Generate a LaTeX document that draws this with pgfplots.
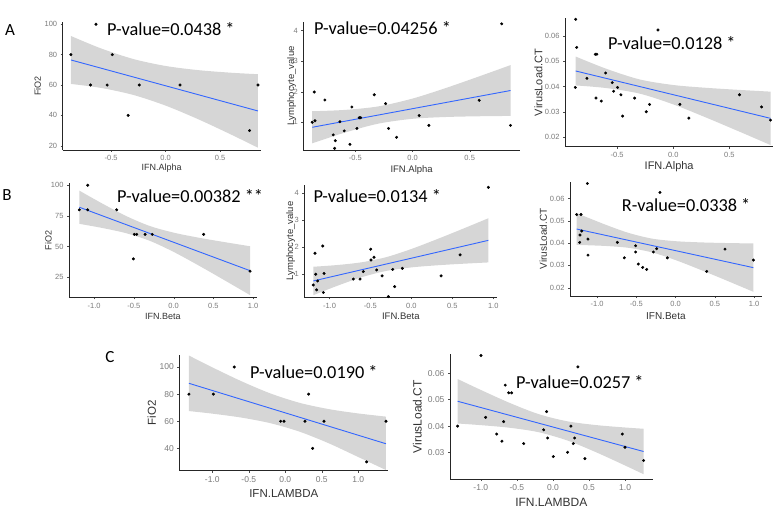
\documentclass[border=0pt]{standalone}
\usepackage{fontspec}
\setmainfont{Liberation Sans}
\newfontfamily\calib{Carlito}
\usepackage{pgfplots}
\usepgfplotslibrary{fillbetween}
\pgfplotsset{compat=1.18}
\definecolor{smoothc}{HTML}{3366FF}
\definecolor{bandc}{HTML}{D6D6D6}
\definecolor{ticklab}{HTML}{7A7A7A}
\pgfplotsset{gg/.style={scale only axis, axis lines*=left,
  axis line style={-, black!85, line width=0.6pt},
  tick align=outside, major tick length=2pt,
  tick style={black!70, line width=0.4pt},
  tick label style={text=ticklab, font=\fontsize{7.5}{7.5}\selectfont},
  label style={text=black!80},
  scaled ticks=false,
  /pgf/number format/assume math mode=true},
  pts/.style={only marks, mark=*, mark size=1.3pt, black},
  fit/.style={smoothc, line width=0.9pt},
  edge/.style={draw=none, smooth},
}
\newcommand{\pval}[3]{\node[anchor=west, inner sep=0pt, font=\calib\fontsize{18.3}{18.3}\selectfont] at (#1pt,#2pt) {#3};}
\begin{document}
\begin{tikzpicture}
% ---------- A1
\begin{axis}[gg, at={(62.7pt,359pt)}, anchor=south west, width=197.8pt, height=128.3pt,
  xmin=-0.945, xmax=0.87, ymin=17.2, ymax=101.7,
  xtick={-0.5,0,0.5}, xticklabels={-0.5,0.0,0.5}, ytick={20,40,60,80,100},
  xlabel={IFN.Alpha}, ylabel={FiO2}, label style={font=\fontsize{9}{9}\selectfont},
  xlabel style={at={(axis description cs:0.5,-0.1426)}, anchor=center},
  ylabel style={at={(axis description cs:-0.1264,0.5)}, anchor=center}]
\addplot[edge, name path=U1] coordinates {(-0.87,92.3)(-0.6,84.28)(-0.3,77.18)(0,72.53)(0.3,69.79)(0.6,68.09)(0.847,67.11)};
\addplot[edge, name path=L1] coordinates {(-0.87,60.7)(-0.6,58.16)(-0.3,53.52)(0,46.41)(0.3,37.41)(0.6,27.37)(0.847,18.69)};
\addplot[bandc] fill between[of=U1 and L1];
\addplot[fit] coordinates {(-0.87,76.5)(0.847,42.9)};
\addplot[pts] table {
-0.87 80
-0.64 100
-0.49 80
-0.69 60
-0.537 60
-0.242 60
0.132 60
-0.344 40
0.77 30
0.847 60
};
\end{axis}
% ---------- A2
\begin{axis}[gg, at={(303.3pt,359pt)}, anchor=south west, width=216.7pt, height=128.3pt,
  xmin=-0.956, xmax=0.94, ymin=0.095, ymax=4.29,
  xtick={-0.5,0,0.5}, xticklabels={-0.5,0.0,0.5}, ytick={1,2,3,4},
  xlabel={IFN.Alpha}, ylabel={Lymphocyte\_value}, label style={font=\fontsize{9.5}{9.5}\selectfont},
  xlabel style={at={(axis description cs:0.5,-0.156)}, anchor=center},
  ylabel style={at={(axis description cs:-0.0535,0.5)}, anchor=center}]
\addplot[edge, name path=U2] coordinates {(-0.878,1.3625)(-0.6,1.404)(-0.3,1.520)(0,1.777)(0.3,2.133)(0.6,2.525)(0.857,2.871)};
\addplot[edge, name path=L2] coordinates {(-0.878,0.3125)(-0.6,0.656)(-0.3,0.956)(0,1.115)(0.3,1.175)(0.6,1.199)(0.857,1.209)};
\addplot[bandc] fill between[of=U2 and L2];
\addplot[fit] coordinates {(-0.878,0.8375)(0.857,2.040)};
\addplot[pts] table {
-0.86 1.99
-0.878 1.0
-0.854 1.05
-0.767 1.73
-0.694 0.59
-0.676 0.4
-0.682 0.15
-0.636 1.02
-0.598 0.72
-0.548 0.28
-0.531 1.5
-0.487 0.8
-0.466 1.15
-0.454 1.15
-0.335 1.9
-0.236 1.61
-0.21 0.8
-0.14 0.51
0.058 1.22
0.143 0.9
0.583 1.72
0.78 4.22
0.857 0.9
};
\end{axis}
% ---------- A3
\begin{axis}[gg, at={(565pt,362.3pt)}, anchor=south west, width=208.3pt, height=128.4pt,
  xmin=-0.964, xmax=0.891, ymin=0.0163, ymax=0.067,
  xtick={-0.5,0,0.5}, xticklabels={-0.5,0.0,0.5},
  ytick={0.02,0.03,0.04,0.05,0.06}, yticklabels={0.02,0.03,0.04,0.05,0.06},
  xlabel={IFN.Alpha}, ylabel={VirusLoad.CT}, label style={font=\fontsize{11}{11}\selectfont},
  xlabel style={at={(axis description cs:0.5,-0.156)}, anchor=center},
  ylabel style={at={(axis description cs:-0.128,0.5)}, anchor=center}]
\addplot[edge, name path=U3] coordinates {(-0.869,0.0519)(-0.6,0.04713)(-0.3,0.04287)(0,0.04066)(0.3,0.03953)(0.6,0.0387)(0.866,0.03804)};
\addplot[edge, name path=L3] coordinates {(-0.869,0.0405)(-0.6,0.03947)(-0.3,0.03727)(0,0.0330)(0.3,0.02767)(0.6,0.02204)(0.866,0.01696)};
\addplot[bandc] fill between[of=U3 and L3];
\addplot[fit] coordinates {(-0.869,0.0462)(0.866,0.0275)};
\addplot[pts] table {
-0.869 0.0666
-0.86 0.0555
-0.872 0.0397
-0.769 0.0433
-0.694 0.0528
-0.68 0.0528
-0.688 0.0355
-0.641 0.0343
-0.602 0.0454
-0.543 0.0416
-0.531 0.0382
-0.496 0.0397
-0.466 0.0368
-0.451 0.0284
-0.344 0.0355
-0.24 0.0301
-0.211 0.033
-0.136 0.0624
0.059 0.033
0.139 0.0276
0.59 0.0368
0.786 0.032
0.866 0.0268
};
\end{axis}
% ---------- B1
\begin{axis}[gg, at={(69pt,211.7pt)}, anchor=south west, width=187.7pt, height=114pt,
  xmin=-1.317, xmax=1.044, ymin=8.7, ymax=101.6,
  xtick={-1,-0.5,0,0.5,1}, xticklabels={-1.0,-0.5,0.0,0.5,1.0}, ytick={25,50,75,100},
  xlabel={IFN.Beta}, ylabel={FiO2}, label style={font=\fontsize{9}{9}\selectfont},
  xlabel style={at={(axis description cs:0.5,-0.164)}, anchor=center},
  ylabel style={at={(axis description cs:-0.110,0.5)}, anchor=center}]
\addplot[edge, name path=U4] coordinates {(-1.187,95.63)(-0.9,85.17)(-0.6,74.98)(-0.3,66.78)(0,61.38)(0.3,57.46)(0.6,54.09)(0.96,50.31)};
\addplot[edge, name path=L4] coordinates {(-1.187,68.57)(-0.9,65.21)(-0.6,60.96)(-0.3,54.7)(0,45.66)(0.3,35.12)(0.6,24.05)(0.96,10.49)};
\addplot[bandc] fill between[of=U4 and L4];
\addplot[fit] coordinates {(-1.187,82.1)(0.96,30.4)};
\addplot[pts] table {
-1.187 80
-1.082 100
-1.082 80
-0.717 80
-0.495 60
-0.465 60
-0.36 60
-0.27 60
-0.507 40
0.377 60
0.96 30
};
\end{axis}
% ---------- B2
\begin{axis}[gg, at={(304.3pt,211.7pt)}, anchor=south west, width=193pt, height=112.4pt,
  xmin=-1.308, xmax=1.05, ymin=0.133, ymax=4.31,
  xtick={-1,-0.5,0,0.5,1}, xticklabels={-1.0,-0.5,0.0,0.5,1.0}, ytick={1,2,3,4},
  xlabel={IFN.Beta}, ylabel={Lymphocyte\_value}, label style={font=\fontsize{9.5}{9.5}\selectfont},
  xlabel style={at={(axis description cs:0.5,-0.166)}, anchor=center},
  ylabel style={at={(axis description cs:-0.0705,0.5)}, anchor=center}]
\addplot[edge, name path=U5] coordinates {(-1.198,1.268)(-0.9,1.334)(-0.6,1.438)(-0.3,1.631)(0,1.928)(0.3,2.277)(0.6,2.643)(0.941,3.071)};
\addplot[edge, name path=L5] coordinates {(-1.198,0.212)(-0.9,0.566)(-0.6,0.886)(-0.3,1.117)(0,1.244)(0.3,1.319)(0.6,1.375)(0.941,1.429)};
\addplot[bandc] fill between[of=U5 and L5];
\addplot[fit] coordinates {(-1.198,0.74)(0.941,2.25)};
\addplot[pts] table {
-1.198 0.59
-1.177 1.77
-1.169 0.99
-1.157 0.41
-1.145 0.74
-1.083 2.04
-1.067 1.02
-1.075 0.31
-0.709 0.81
-0.627 0.81
-0.587 1.09
-0.497 1.92
-0.493 1.52
-0.456 1.62
-0.424 1.15
-0.358 0.93
-0.281 0.16
-0.228 1.17
-0.204 0.53
-0.11 1.21
0.363 0.93
0.595 1.71
0.941 4.22
};
\end{axis}
% ---------- B3
\begin{axis}[gg, at={(570pt,213pt)}, anchor=south west, width=191.7pt, height=114.3pt,
  xmin=-1.346, xmax=1.096, ymin=0.0163, ymax=0.0675,
  xtick={-1,-0.5,0,0.5,1}, xticklabels={-1.0,-0.5,0.0,0.5,1.0},
  ytick={0.02,0.03,0.04,0.05,0.06}, yticklabels={0.02,0.03,0.04,0.05,0.06},
  xlabel={IFN.Beta}, ylabel={VirusLoad.CT}, label style={font=\fontsize{10}{10}\selectfont},
  xlabel style={at={(axis description cs:0.5,-0.175)}, anchor=center},
  ylabel style={at={(axis description cs:-0.139,0.5)}, anchor=center}]
\addplot[edge, name path=U6] coordinates {(-1.261,0.05341)(-0.9,0.04833)(-0.6,0.04457)(-0.3,0.0420)(0,0.04085)(0.3,0.04034)(0.6,0.04006)(0.99,0.03983)};
\addplot[edge, name path=L6] coordinates {(-1.261,0.03919)(-0.9,0.03873)(-0.6,0.03787)(-0.3,0.03582)(0,0.03237)(0.3,0.02826)(0.6,0.02394)(0.99,0.01817)};
\addplot[bandc] fill between[of=U6 and L6];
\addplot[fit] coordinates {(-1.261,0.0463)(0.99,0.029)};
\addplot[pts] table {
-1.125 0.0667
-1.261 0.0528
-1.206 0.0528
-1.197 0.0454
-1.219 0.0436
-1.223 0.0403
-1.117 0.0418
-1.117 0.0346
-0.743 0.0403
-0.654 0.0334
-0.51 0.0388
-0.51 0.036
-0.476 0.0306
-0.42 0.0291
-0.369 0.0282
-0.284 0.036
-0.242 0.0375
-0.2 0.0627
-0.106 0.0334
0.395 0.0273
0.628 0.0373
0.99 0.0324
};
\end{axis}
% ---------- C1
\begin{axis}[gg, at={(179.3pt,38.3pt)}, anchor=south west, width=209pt, height=115.7pt,
  xmin=-1.452, xmax=1.411, ymin=23.5, ymax=108.9,
  tick label style={font=\fontsize{8.5}{8.5}\selectfont},
  xtick={-1,-0.5,0,0.5,1}, xticklabels={-1.0,-0.5,0.0,0.5,1.0}, ytick={40,60,80,100},
  xlabel={IFN.LAMBDA}, ylabel={FiO2}, label style={font=\fontsize{11.5}{11.5}\selectfont},
  xlabel style={at={(axis description cs:0.5,-0.195)}, anchor=center},
  ylabel style={at={(axis description cs:-0.132,0.5)}, anchor=center}]
\addplot[edge, name path=U7] coordinates {(-1.32,108.49)(-1.0,99.8)(-0.6,89.51)(-0.2,80.46)(0.2,73.54)(0.6,68.92)(1.0,65.75)(1.379,63.43)};
\addplot[edge, name path=L7] coordinates {(-1.32,67.51)(-1.0,65.62)(-0.6,62.69)(-0.2,58.52)(0.2,52.22)(0.6,43.62)(1.0,33.57)(1.379,24.0)};
\addplot[bandc] fill between[of=U7 and L7];
\addplot[fit] coordinates {(-1.32,88)(1.379,43.4)};
\addplot[pts] table {
-1.32 80
-0.986 80
-0.699 100
-0.064 60
-0.018 60
0.269 60
0.32 80
0.374 40
0.53 60
1.114 30
1.379 60
};
\end{axis}
% ---------- C2
\begin{axis}[gg, at={(450pt,30pt)}, anchor=south west, width=202.6pt, height=124.8pt,
  xmin=-1.427, xmax=1.381, ymin=0.02, ymax=0.0672,
  tick label style={font=\fontsize{8.5}{8.5}\selectfont},
  xtick={-1,-0.5,0,0.5,1}, xticklabels={-1.0,-0.5,0.0,0.5,1.0},
  ytick={0.03,0.04,0.05,0.06}, yticklabels={0.03,0.04,0.05,0.06},
  xlabel={IFN.LAMBDA}, ylabel={VirusLoad.CT}, label style={font=\fontsize{12}{12}\selectfont},
  xlabel style={at={(axis description cs:0.5,-0.19)}, anchor=center},
  ylabel style={at={(axis description cs:-0.161,0.5)}, anchor=center}]
\addplot[edge, name path=U8] coordinates {(-1.321,0.05781)(-1.0,0.05369)(-0.6,0.04878)(-0.2,0.04455)(0.2,0.04182)(0.6,0.04039)(1.0,0.03948)(1.256,0.0390)};
\addplot[edge, name path=L8] coordinates {(-1.321,0.04099)(-1.0,0.04037)(-0.6,0.03938)(-0.2,0.03771)(0.2,0.03456)(0.6,0.03009)(1.0,0.0251)(1.256,0.0218)};
\addplot[bandc] fill between[of=U8 and L8];
\addplot[fit] coordinates {(-1.321,0.0494)(1.256,0.0304)};
\addplot[pts] table {
-1.321 0.04
-0.998 0.0667
-0.933 0.0433
-0.78 0.037
-0.707 0.0343
-0.684 0.0417
-0.661 0.0555
-0.614 0.0526
-0.573 0.0526
-0.406 0.0334
-0.129 0.0386
-0.088 0.0455
-0.074 0.0355
0.005 0.0285
0.203 0.0301
0.249 0.04
0.282 0.0334
0.3 0.0355
0.346 0.0624
0.443 0.0277
0.961 0.037
0.998 0.032
1.256 0.027
};
\end{axis}
% ---------- texts
\pval{107}{480}{P-value=0.0438 *}
\pval{314}{480.7}{P-value=0.04256 *}
\pval{608}{465.7}{P-value=0.0128 *}
\pval{117}{313}{P-value=0.00382 **}
\pval{313.3}{313}{P-value=0.0134 *}
\pval{621.7}{304}{R-value=0.0338 *}
\pval{250}{136.7}{P-value=0.0190 *}
\pval{516}{127.3}{P-value=0.0257 *}
\node[font=\calib\fontsize{17}{17}\selectfont, inner sep=0pt] at (10pt,479pt) {A};
\node[font=\calib\fontsize{17}{17}\selectfont, inner sep=0pt] at (7pt,314pt) {B};
\node[font=\calib\fontsize{17}{17}\selectfont, inner sep=0pt] at (110pt,152.3pt) {C};
\pgfresetboundingbox
\path[use as bounding box] (0pt,0pt) rectangle (778pt,509pt);
\end{tikzpicture}
\end{document}
